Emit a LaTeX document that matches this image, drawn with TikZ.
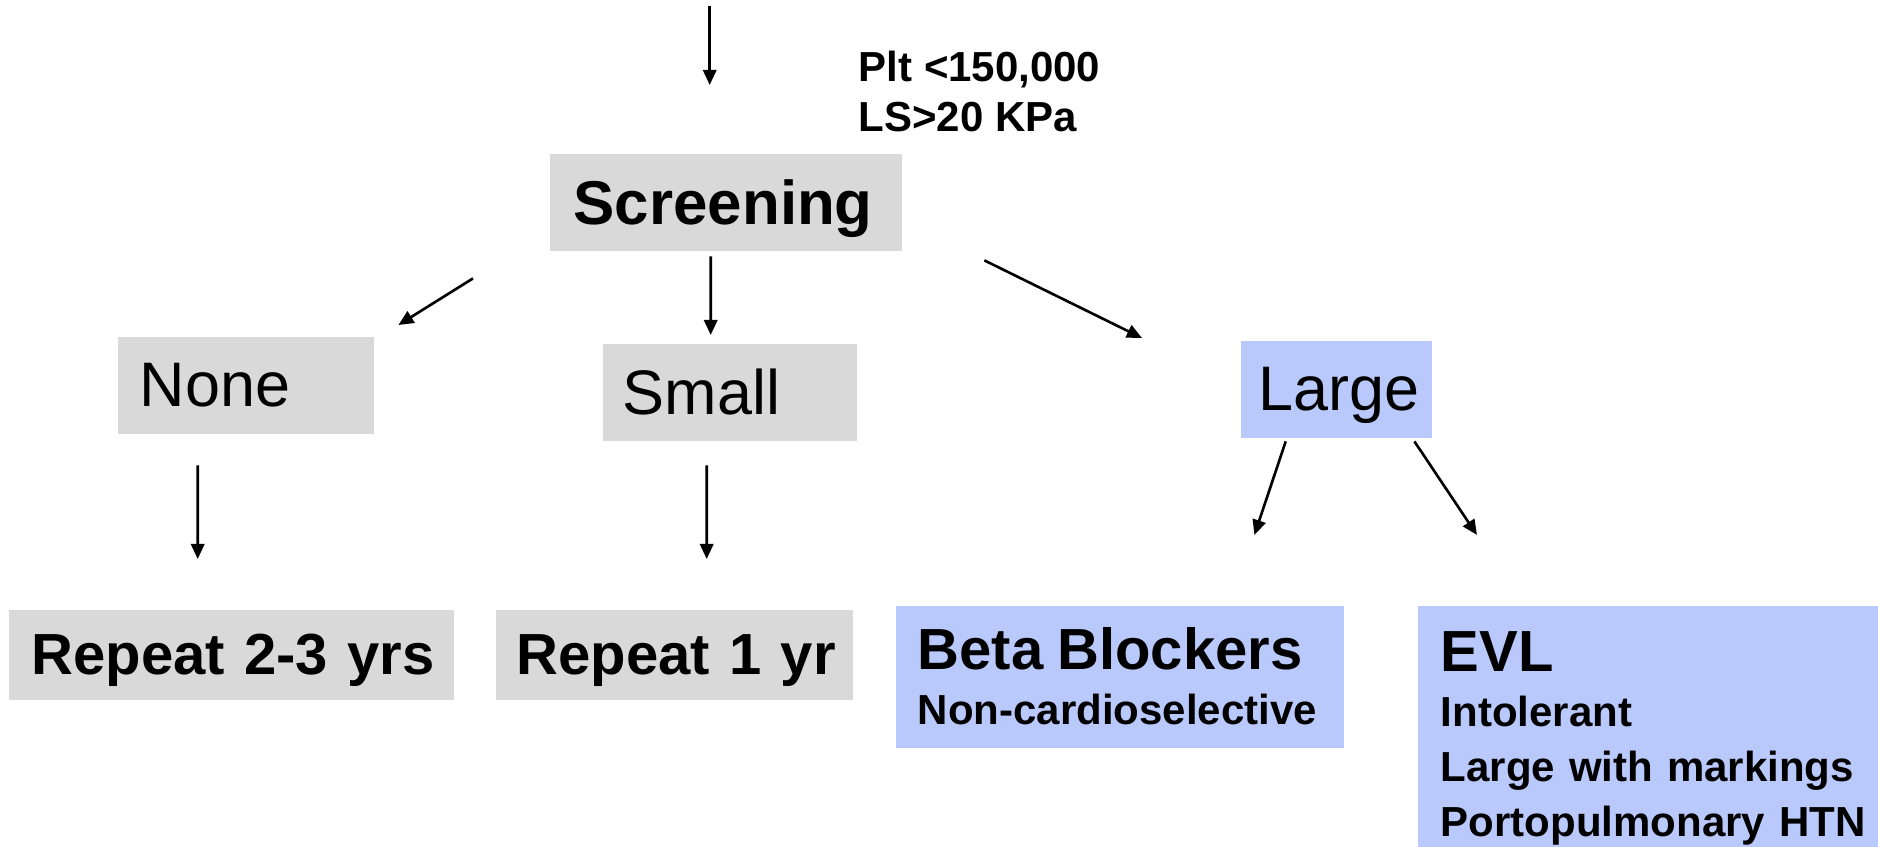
\documentclass[tikz,border=0pt]{standalone}
\usepackage{fontspec}
\setmainfont{Liberation Sans}
\usepackage{tikz}
\usetikzlibrary{arrows.meta}

\definecolor{boxgrey}{HTML}{D9D9D9}
\definecolor{boxblue}{HTML}{B9C9FB}

\newcommand{\labfont}{\fontsize{17.9}{21.5}\selectfont}
\newcommand{\headfont}{\fontsize{16.5}{19.8}\selectfont\bfseries}
\newcommand{\notefont}{\fontsize{11.95}{15.65}\selectfont\bfseries}

\begin{document}
\begin{tikzpicture}[
	>={Triangle[length=4.3pt,width=3.8pt]},
	arr/.style={->, line width=0.75pt},
	box/.style={anchor=north west, inner ysep=0pt, align=left},
	greybox/.style={box, fill=boxgrey, text depth=0pt},
	bluebox/.style={box, fill=boxblue},
	]
	\clip (0,0) rectangle (18.78,-8.47);

	% thresholds
	\node[anchor=north west, inner sep=0pt, align=left,
	font=\fontsize{11.95}{14.2}\selectfont\bfseries] (crit) at (8.58,-0.50)
	{Plt <150,000\\LS>20 KPa};

	% screening and its three outcomes
	\node[greybox, font=\fontsize{17.6}{21}\selectfont\bfseries, inner xsep=0.24cm,
	text width=3.04cm, minimum height=0.97cm] (screening) at (5.49,-1.53) {Screening};
	\node[greybox, font=\labfont, inner xsep=0.22cm, text width=2.12cm,
	minimum height=0.97cm] (none) at (1.17,-3.36) {None};
	\node[greybox, font=\labfont, inner xsep=0.20cm, text width=2.14cm,
	minimum height=0.97cm] (small) at (6.02,-3.43) {Small};
	\node[bluebox, font=\labfont, text depth=0pt, inner xsep=0.18cm, text width=1.55cm,
	minimum height=0.97cm] (large) at (12.40,-3.40) {Large};

	% follow-up and treatment
	\node[greybox, font=\headfont, inner xsep=0.23cm, text width=3.99cm,
	minimum height=0.90cm] (rep23) at (0.08,-6.09) {\mbox{Repeat 2-3 yrs}};
	\node[greybox, font=\headfont, inner xsep=0.21cm, text width=3.15cm,
	minimum height=0.90cm] (rep1) at (4.95,-6.09) {\mbox{Repeat 1 yr}};
	\node[bluebox, font=\notefont, inner xsep=0.22cm, text width=4.04cm,
	minimum height=1.42cm] (beta) at (8.95,-6.05)
	{{\headfont Beta Blockers}\\\mbox{Non-cardioselective}};
	\node[bluebox, font=\notefont, inner xsep=0.23cm, text width=4.60cm,
	minimum height=2.66cm] (evl) at (14.17,-6.05)
	{{\headfont EVL}\\Intolerant\\Large with markings\\\mbox{Portopulmonary HTN}};

	% arrows
	\draw[arr] ([shift={(-0.16,1.47)}]screening.north) -- ([shift={(-0.16,0.68)}]screening.north);
	\draw[arr] ([shift={(-0.76,-0.27)}]screening.south west) -- ([shift={(0.24,0.11)}]none.north east);
	\draw[arr] ([shift={(-0.15,-0.05)}]screening.south) -- ([shift={(-0.19,0.08)}]small.north);
	\draw[arr] ([shift={(0.82,-0.09)}]screening.south east) -- ([shift={(-0.98,0.02)}]large.north west);
	\draw[arr] ([shift={(-0.48,-0.31)}]none.south) -- ([shift={(-0.335,0.50)}]rep23.north);
	\draw[arr] ([shift={(-0.23,-0.24)}]small.south) -- ([shift={(0.325,0.50)}]rep1.north);
	\draw[arr] ([shift={(-0.505,-0.03)}]large.south) -- ([shift={(-0.90,0.70)}]beta.north east);
	\draw[arr] ([shift={(-0.18,-0.03)}]large.south east) -- ([shift={(0.60,0.70)}]evl.north west);
\end{tikzpicture}
\end{document}
